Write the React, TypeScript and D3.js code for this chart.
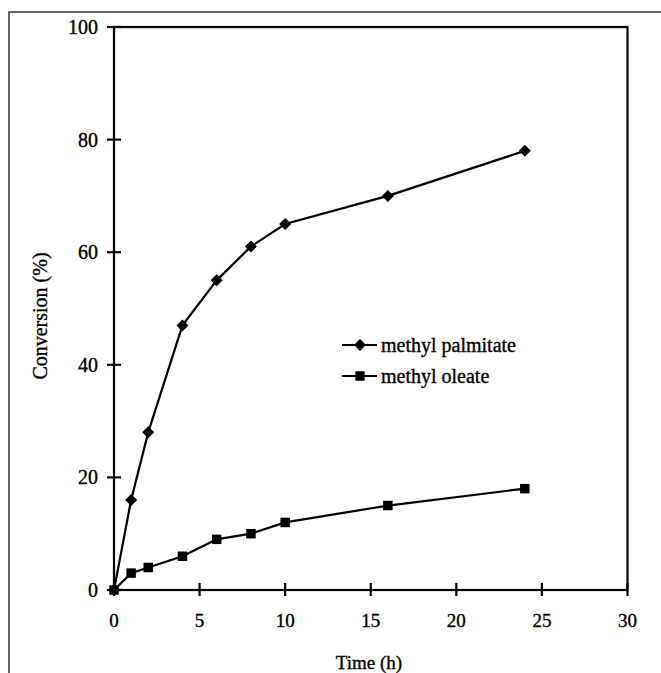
import React, { useRef, useEffect } from 'react';
import * as d3 from 'd3';

const hours = [0, 1, 2, 4, 6, 8, 10, 16, 24];
const palmitate = [0, 16, 28, 47, 55, 61, 65, 70, 78];
const oleate = [0, 3, 4, 6, 9, 10, 12, 15, 18];
const xTicks = [0, 5, 10, 15, 20, 25, 30];
const yTicks = [0, 20, 40, 60, 80, 100];
const seriesNames = ['methyl palmitate', 'methyl oleate'];

const W = 661;
const H = 673;
const FONT = '"Liberation Serif", "Times New Roman", serif';

export default () => {
  const svgRef = useRef<SVGSVGElement>(null);

  useEffect(() => {
    document.body.style.margin = '0';
    if (!svgRef.current) return;
    const svg = d3.select(svgRef.current);
    svg.selectAll('*').remove();

    const x = d3.scaleLinear().domain([0, 30]).range([114, 627.5]);
    const y = d3.scaleLinear().domain([0, 100]).range([590, 27]);

    // scanned text looks a little heavier than plain Times
    const label = (sel: any, size: number) =>
      sel
        .style('font-family', FONT)
        .style('font-size', `${size}px`)
        .style('fill', '#000')
        .style('stroke', '#000')
        .style('stroke-width', 0.35);

    // outer figure frame (top + left edge)
    svg
      .append('path')
      .attr('d', `M9,${H} L9,12 L${W},12`)
      .style('fill', 'none')
      .style('stroke', '#333')
      .style('stroke-width', 1.5);

    // plot box
    svg
      .append('rect')
      .attr('x', x(0))
      .attr('y', y(100))
      .attr('width', x(30) - x(0))
      .attr('height', y(0) - y(100))
      .style('fill', 'none')
      .style('stroke', '#000')
      .style('stroke-width', 2.2);

    // y ticks
    yTicks.forEach((t) => {
      svg
        .append('line')
        .attr('x1', x(0) - 7)
        .attr('x2', x(0) + 7)
        .attr('y1', y(t))
        .attr('y2', y(t))
        .style('stroke', '#000')
        .style('stroke-width', 2.2);
      label(
        svg
          .append('text')
          .attr('x', 98)
          .attr('y', y(t))
          .attr('dy', '0.35em')
          .attr('text-anchor', 'end'),
        20
      ).text(t);
    });

    // x ticks
    xTicks.forEach((t) => {
      svg
        .append('line')
        .attr('x1', x(t))
        .attr('x2', x(t))
        .attr('y1', y(0) - 7)
        .attr('y2', y(0) + 6)
        .style('stroke', '#000')
        .style('stroke-width', 2.2);
      label(
        svg
          .append('text')
          .attr('x', x(t))
          .attr('y', 620)
          .attr('dy', '0.35em')
          .attr('text-anchor', 'middle'),
        19
      ).text(t);
    });

    // axis titles
    label(
      svg
        .append('text')
        .attr('x', 369)
        .attr('y', 662)
        .attr('dy', '0.35em')
        .attr('text-anchor', 'middle'),
      19
    ).text('Time (h)');
    label(
      svg
        .append('text')
        .attr('transform', 'translate(40,316) rotate(-90)')
        .attr('dy', '0.35em')
        .attr('text-anchor', 'middle'),
      20
    ).text('Conversion (%)');

    const line = d3
      .line<[number, number]>()
      .x((d) => x(d[0]))
      .y((d) => y(d[1]));

    const diamond = d3.symbol().type(d3.symbolSquare).size(72);
    const square = d3.symbol().type(d3.symbolSquare).size(90);

    const series = [
      { values: palmitate, sym: diamond, rot: 45 },
      { values: oleate, sym: square, rot: 0 }
    ];

    series.forEach((s) => {
      const pts: [number, number][] = hours.map((h, i) => [h, s.values[i]]);
      svg
        .append('path')
        .attr('d', line(pts))
        .style('fill', 'none')
        .style('stroke', '#000')
        .style('stroke-width', 2.2);
      svg
        .selectAll(null)
        .data(pts)
        .enter()
        .append('path')
        .attr('d', s.sym() as string)
        .attr('transform', (d) => `translate(${x(d[0])},${y(d[1])}) rotate(${s.rot})`)
        .style('fill', '#000');
    });

    // legend
    const legendY = [345, 376];
    series.forEach((s, i) => {
      svg
        .append('line')
        .attr('x1', 342)
        .attr('x2', 377)
        .attr('y1', legendY[i])
        .attr('y2', legendY[i])
        .style('stroke', '#000')
        .style('stroke-width', 2.2);
      svg
        .append('path')
        .attr('d', s.sym() as string)
        .attr('transform', `translate(360,${legendY[i]}) rotate(${s.rot})`)
        .style('fill', '#000');
      label(
        svg
          .append('text')
          .attr('x', 381)
          .attr('y', legendY[i])
          .attr('dy', '0.35em'),
        20
      ).text(seriesNames[i]);
    });
  }, []);

  return <svg width={W} height={H} ref={svgRef} style={{ display: 'block', background: '#fff' }} />;
};
